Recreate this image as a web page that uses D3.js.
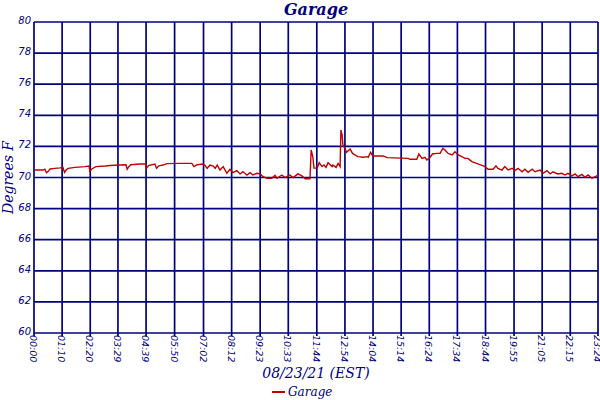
<!DOCTYPE html>
<html>
<head>
<meta charset="utf-8">
<script src="https://cdn.jsdelivr.net/npm/d3@7"></script>
<style>
  body { margin: 0; background: #fff; }
  svg text { fill: #000080; }
</style>
</head>
<body>
<svg id="chart" width="600" height="400"></svg>
<script>
// tick labels along the time axis (minutes from midnight)
var tickLabels = ["00:00","01:10","02:20","03:29","04:39","05:50","07:02","08:12","09:23","10:33",
  "11:44","12:54","14:04","15:14","16:24","17:34","18:44","19:55","21:05","22:15","23:24"];
var yTicks = [60,62,64,66,68,70,72,74,76,78,80];

// garage temperature
var minutes = [0,22,27,31,35,40,52,65,72,76,80,85,102,127,137,139,144,154,177,189,214,229,232,236,241,264,278,280,285,301,305,311,321,331,363,
  388,393,398,406,421,426,431,438,446,451,456,463,471,480,488,495,505,513,520,530,538,545,555,563,570,580,592,600,605,617,625,637,645,657,667,675,687,
  690,694,697,705,710,717,722,727,732,742,744,752,757,762,764,767,769,774,778,787,793,799,806,819,829,832,838,843,849,869,874,879,931,936,953,958,966,973,978,986,992,1003,1011,1018,
  1023,1031,1041,1048,1056,1065,1073,1080,1090,1105,1123,1130,1143,1150,1155,1165,1172,1180,1190,1197,1205,1215,1222,1230,1240,1247,1260,1267,1277,1285,1292,1304,1314,1322,1329,1339,1347,1354,1364,1372,1379,1389,1397,1404];
var temps = [70.48,70.48,70.53,70.31,70.38,70.55,70.59,70.62,70.65,70.33,70.48,70.59,70.65,70.70,70.74,70.40,70.55,70.70,70.74,70.77,70.80,70.82,70.53,70.70,70.82,70.87,70.87,70.59,70.77,70.87,70.59,70.75,70.80,70.89,70.91,
  70.91,70.91,70.70,70.82,70.87,70.77,70.59,70.80,70.74,70.59,70.80,70.48,70.70,70.27,70.53,70.31,70.44,70.23,70.38,70.16,70.31,70.16,70.27,70.23,70.05,69.95,69.95,70.14,69.95,70.16,69.99,70.16,69.99,70.23,70.10,69.92,69.92,
  71.77,71.35,70.60,70.60,70.95,70.70,70.80,70.65,70.95,70.70,70.80,70.65,70.91,70.70,73.05,72.73,72.09,71.88,71.62,71.83,71.55,71.45,71.34,71.30,71.34,71.30,71.62,71.40,71.38,71.38,71.34,71.28,71.23,71.17,71.17,71.51,71.23,71.30,71.13,71.30,71.51,71.55,71.55,71.88,
  71.77,71.55,71.45,71.66,71.45,71.34,71.23,71.23,71.02,70.87,70.70,70.53,70.53,70.75,70.59,70.48,70.70,70.48,70.59,70.44,70.59,70.37,70.53,70.33,70.53,70.37,70.48,70.27,70.44,70.23,70.37,70.23,70.27,70.16,70.27,70.10,70.23,70.05,70.20,70.01,70.16,69.95,70.05,70.16];

var navy = "#000080";
var serif = "'DejaVu Serif', serif";
var sans = "'DejaVu Sans', sans-serif";

function toMin(s) { var p = s.split(":"); return +p[0] * 60 + +p[1]; }

var svg = d3.select("#chart");
var plotL = 34, plotR = 598, plotT = 22, plotB = 333;

var x = d3.scaleLinear().domain([0, toMin(tickLabels[tickLabels.length - 1])]).range([plotL, plotR]);
var y = d3.scaleLinear().domain([60, 80]).range([plotB, plotT]);

// grid
var grid = svg.append("g");
grid.selectAll(".v").data(tickLabels).enter().append("line")
  .attr("x1", function (d) { return x(toMin(d)); })
  .attr("x2", function (d) { return x(toMin(d)); })
  .attr("y1", plotT).attr("y2", plotB + 3)
  .attr("stroke", navy).attr("stroke-width", 1.7);
grid.selectAll(".h").data(yTicks).enter().append("line")
  .attr("x1", plotL).attr("x2", plotR)
  .attr("y1", function (d) { return y(d); })
  .attr("y2", function (d) { return y(d); })
  .attr("stroke", navy).attr("stroke-width", 1.7);

// y tick labels
svg.append("g").selectAll("text").data(yTicks).enter().append("text")
  .attr("x", plotL - 3).attr("y", function (d) { return y(d) + 2; })
  .attr("text-anchor", "end")
  .style("font", "italic 10px " + sans)
  .text(function (d) { return d; });

// x tick labels, rotated
svg.append("g").selectAll("text").data(tickLabels).enter().append("text")
  .attr("transform", function (d) { return "translate(" + (x(toMin(d)) - 4) + "," + (plotB + 2) + ") rotate(90)"; })
  .attr("text-anchor", "start")
  .style("font", "italic 9.5px " + sans)
  .text(function (d) { return d; });

// series
var pts = minutes.map(function (m, i) { return [m, temps[i]]; });
var line = d3.line().x(function (d) { return x(d[0]); }).y(function (d) { return y(d[1]); });
svg.append("path").datum(pts)
  .attr("d", line)
  .attr("fill", "none")
  .attr("stroke", "#c00000")
  .attr("stroke-width", 1.4);

// titles
svg.append("text").attr("x", 316).attr("y", 15).attr("text-anchor", "middle")
  .style("font", "italic bold 16px " + serif).text("Garage");
svg.append("text").attr("transform", "translate(13," + (y(70)) + ") rotate(-90)")
  .attr("text-anchor", "middle")
  .style("font", "italic 14px " + serif).text("Degrees F");
svg.append("text").attr("x", 316).attr("y", 378).attr("text-anchor", "middle")
  .style("font", "italic 14px " + serif).text("08/23/21 (EST)");

// legend
svg.append("line").attr("x1", 272).attr("x2", 285).attr("y1", 392).attr("y2", 392)
  .attr("stroke", "#c00000").attr("stroke-width", 2);
svg.append("text").attr("x", 288).attr("y", 396)
  .style("font", "italic 12px " + serif).text("Garage");
</script>
</body>
</html>
